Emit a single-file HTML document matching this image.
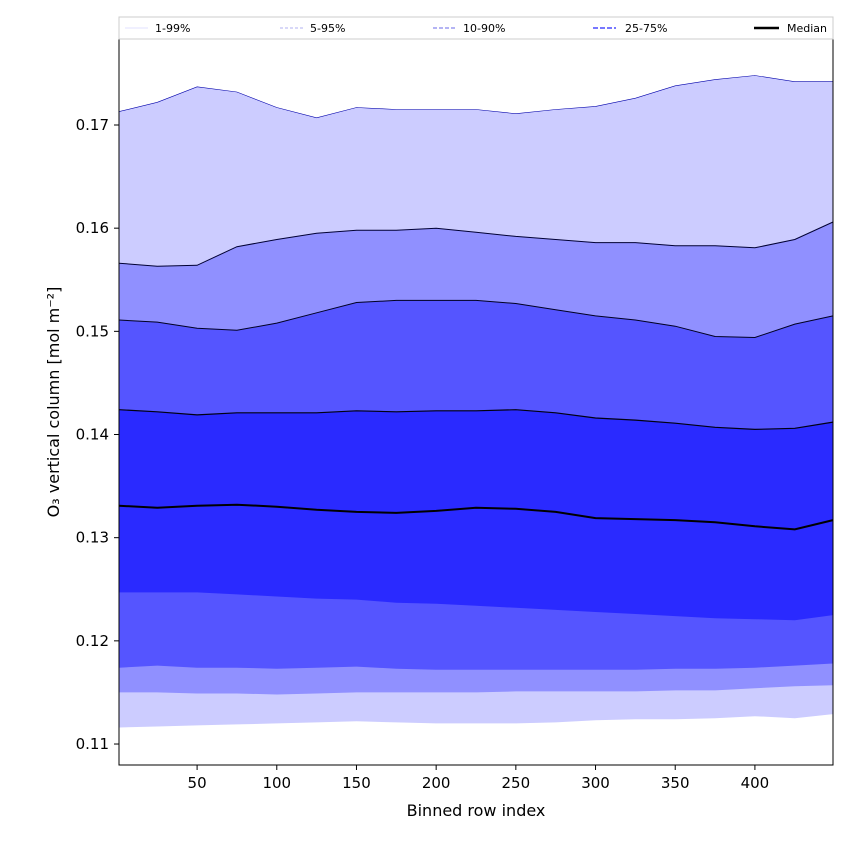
<!DOCTYPE html>
<html><head><meta charset="utf-8"><style>
body{margin:0;background:#fff;font-family:"Liberation Sans","DejaVu Sans",sans-serif}
svg text{font-family:"DejaVu Sans","Liberation Sans",sans-serif}
</style></head><body>
<svg id="chart" width="850" height="850">
<rect width="850" height="850" fill="#fff"/>
<g id="bands"></g>
<g id="lines"></g>
<rect x="119" y="39" width="714" height="726" fill="none" stroke="#000" stroke-width="1"/>
<g id="xticks"></g>
<g id="yticks"></g>
<text x="476" y="816" text-anchor="middle" font-size="16">Binned row index</text>
<text transform="translate(59,402) rotate(-90)" text-anchor="middle" font-size="16">O₃ vertical column [mol m⁻²]</text>
<g>
<rect x="119" y="17" width="714" height="22" fill="#fff" stroke="#ccc"/>
<line x1="125" y1="28" x2="148" y2="28" stroke="#e0e0ff" stroke-width="1"/>
<text x="155" y="32" font-size="11">1-99%</text>
<line x1="280" y1="28" x2="303" y2="28" stroke="#b0b0f0" stroke-width="1" stroke-dasharray="3,2"/>
<text x="310" y="32" font-size="11">5-95%</text>
<line x1="433" y1="28" x2="456" y2="28" stroke="#8888ee" stroke-width="1.3" stroke-dasharray="4,2"/>
<text x="463" y="32" font-size="11">10-90%</text>
<line x1="593" y1="28" x2="616" y2="28" stroke="#6666ff" stroke-width="1.8" stroke-dasharray="5,2"/>
<text x="625" y="32" font-size="11">25-75%</text>
<line x1="754" y1="28" x2="779" y2="28" stroke="#000" stroke-width="2.5"/>
<text x="787" y="32" font-size="11">Median</text>
</g>
</svg>
<script>
const xs=[1,25,50,75,100,125,150,175,200,225,250,275,300,325,350,375,400,425,449];
const p99=[.1713,.1722,.1737,.1732,.1717,.1707,.1717,.1715,.1715,.1715,.1711,.1715,.1718,.1726,.1738,.1744,.1748,.1742,.1742];
const p95=[.1566,.1563,.1564,.1582,.1589,.1595,.1598,.1598,.1600,.1596,.1592,.1589,.1586,.1586,.1583,.1583,.1581,.1589,.1606];
const p90=[.1511,.1509,.1503,.1501,.1508,.1518,.1528,.1530,.1530,.1530,.1527,.1521,.1515,.1511,.1505,.1495,.1494,.1507,.1515];
const p75=[.1424,.1422,.1419,.1421,.1421,.1421,.1423,.1422,.1423,.1423,.1424,.1421,.1416,.1414,.1411,.1407,.1405,.1406,.1412];
const med=[.1331,.1329,.1331,.1332,.1330,.1327,.1325,.1324,.1326,.1329,.1328,.1325,.1319,.1318,.1317,.1315,.1311,.1308,.1317];
const p25=[.1247,.1247,.1247,.1245,.1243,.1241,.1240,.1237,.1236,.1234,.1232,.1230,.1228,.1226,.1224,.1222,.1221,.1220,.1225];
const p10=[.1174,.1176,.1174,.1174,.1173,.1174,.1175,.1173,.1172,.1172,.1172,.1172,.1172,.1172,.1173,.1173,.1174,.1176,.1178];
const p5=[.1150,.1150,.1149,.1149,.1148,.1149,.1150,.1150,.1150,.1150,.1151,.1151,.1151,.1151,.1152,.1152,.1154,.1156,.1157];
const p1=[.1116,.1117,.1118,.1119,.1120,.1121,.1122,.1121,.1120,.1120,.1120,.1121,.1123,.1124,.1124,.1125,.1127,.1125,.1129];
const xTicks=[50,100,150,200,250,300,350,400];
const yTicks=[0.11,0.12,0.13,0.14,0.15,0.16,0.17];
const NS="http://www.w3.org/2000/svg";
function X(v){return 119+(v-1)*(714/448);}
function Y(v){return 125-(v-0.17)*10317;}
function pts(a){return a.map((v,i)=>X(xs[i]).toFixed(1)+","+Y(v).toFixed(1));}
const bands=document.getElementById('bands');
const defs=[[p99,p1,'#ccccff','band-1-99'],[p95,p5,'#9090ff','band-5-95'],[p90,p10,'#5555ff','band-10-90'],[p75,p25,'#2a2aff','band-25-75']];
defs.forEach(d=>{
  const p=document.createElementNS(NS,'polygon');
  p.setAttribute('points',pts(d[0]).concat(pts(d[1]).reverse()).join(' '));
  p.setAttribute('fill',d[2]);
  
  
  bands.appendChild(p);
});
const lines=document.getElementById('lines');
[[p99,'#0000aa',0.6,'line-p99'],[p95,'#000033',1,'line-p95'],[p90,'#000022',1,'line-p90'],[p75,'#000011',1.2,'line-p75'],[med,'#000',2,'median-line']].forEach(d=>{
  const l=document.createElementNS(NS,'polyline');
  l.setAttribute('points',pts(d[0]).join(' '));
  l.setAttribute('fill','none');
  l.setAttribute('stroke',d[1]);
  l.setAttribute('stroke-width',d[2]);
  
  
  lines.appendChild(l);
});
const xg=document.getElementById('xticks');
xTicks.forEach(t=>{
  const x=X(t);
  const l=document.createElementNS(NS,'line');
  l.setAttribute('x1',x);l.setAttribute('x2',x);l.setAttribute('y1',765);l.setAttribute('y2',770);l.setAttribute('stroke','#000');
  
  
  xg.appendChild(l);
  const s=document.createElementNS(NS,'text');
  s.setAttribute('x',x);s.setAttribute('y',788);s.setAttribute('text-anchor','middle');s.setAttribute('font-size','15');
  s.textContent=t;
  
  
  xg.appendChild(s);
});
const yg=document.getElementById('yticks');
yTicks.forEach(t=>{
  const y=Y(t);
  const l=document.createElementNS(NS,'line');
  l.setAttribute('x1',114);l.setAttribute('x2',119);l.setAttribute('y1',y);l.setAttribute('y2',y);l.setAttribute('stroke','#000');
  
  
  yg.appendChild(l);
  const s=document.createElementNS(NS,'text');
  s.setAttribute('x',109);s.setAttribute('y',y+5);s.setAttribute('text-anchor','end');s.setAttribute('font-size','15');
  s.textContent=t.toFixed(2);
  
  
  yg.appendChild(s);
});
</script>
</body></html>
